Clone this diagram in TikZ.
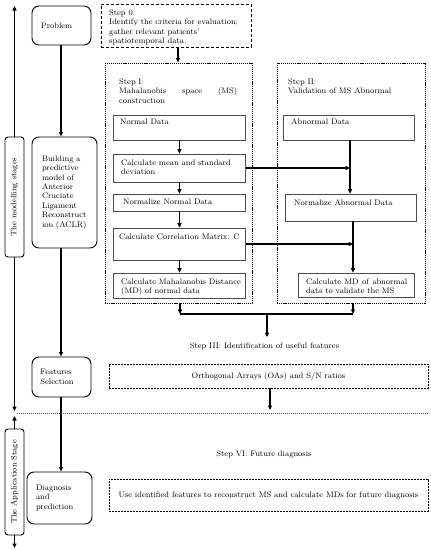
\documentclass[tikz,border=0pt]{standalone}
\usetikzlibrary{arrows.meta,calc}
\begin{document}
\begin{tikzpicture}[x=1pt,y=-1pt,
  every node/.style={font=\fontsize{8}{9.4}\selectfont, inner sep=0pt},
  rbox/.style={draw, line width=0.9pt, rounded corners=7pt, align=left},
  pbox/.style={draw=black!70, line width=0.6pt},
  dbox/.style={draw, line width=0.9pt, dash pattern=on 3pt off 2pt},
  dotbox/.style={draw, line width=0.9pt, dash pattern=on 1.2pt off 0.9pt},
  fbox/.style={draw, line width=0.8pt, dash pattern=on 2pt off 1pt},
  conn/.style={line width=1.1pt, -{Triangle[length=4.5pt,width=4pt]}},
  plainline/.style={line width=1.1pt},
  sepline/.style={draw=black!70, line width=0.6pt, dash pattern=on 1pt off 1pt},
  tl/.style={anchor=north west, align=left},
]
\useasboundingbox (0,0) rectangle (431,550);

% left stage boxes
\node[rbox, rounded corners=3pt, rotate=90, minimum width=120pt, minimum height=19pt, align=center] (modelling) at (14.5,197) {The modelling stages};
\node[rbox, rounded corners=3pt, rotate=90, minimum width=106pt, minimum height=19pt, align=center] (application) at (14.5,482) {The Application Stage};
\coordinate (mtop) at (14.5,6);
\coordinate (mdown) at (14.5,411);
\coordinate (aup) at (14.5,416);
\coordinate (adown) at (14.5,548);
\draw[conn] (modelling.east) -- (mtop);
\draw[conn] (modelling.west) -- (mdown);
\draw[conn] (application.east) -- (aup);
\draw[conn] (application.west) -- (adown);

% second column
\node[rbox, minimum width=59pt, minimum height=39pt, inner xsep=9pt, text width=41pt] (problem) at (61.5,25.5) {Problem};
\node[rbox, minimum width=65pt, minimum height=111pt, inner xsep=10pt, text width=45pt] (building) at (64.5,192.5) {\mbox{Building a}\\\mbox{predictive}\\\mbox{model of}\\\mbox{Anterior}\\\mbox{Cruciate}\\\mbox{Ligament}\\\mbox{Reconstruct}\\\mbox{ion (ACLR)}};
\node[rbox, minimum width=59pt, minimum height=40pt, inner xsep=8.5pt, text width=42pt] (features) at (61.5,377) {Features\\Selection};
\node[rbox, minimum width=65pt, minimum height=52pt, inner xsep=9pt, text width=47pt] (diagnosis) at (59.5,498) {Diagnosis\\and\\prediction};
\coordinate (c0) at (61,0);
\draw[conn] (problem.south -| c0) -- (building.north -| c0);
\draw[conn] (building.south -| c0) -- (features.north -| c0);
\draw[conn] (features.south -| c0) -- (diagnosis.north -| c0);

% step 0
\node[dbox, minimum width=150pt, minimum height=43pt] (step0) at (176,25.5) {};
\node[tl] (step0txt) at (109,9.5) {Step 0:\\Identify the criteria for evaluation;\\gather relevant patients'\\spatiotemporal data.};

% step I and II frames
\node[dotbox, minimum width=147pt, minimum height=240pt] (stepI) at (178.5,183) {};
\node[dotbox, minimum width=148pt, minimum height=240pt] (stepII) at (351,183) {};
\coordinate (c1) at (178,0);
\draw[conn] (step0.south -| c1) -- (stepI.north -| c1);

\node[tl, text width=118pt] (stepItxt) at (119,78.5) {Step I:\\Mahalanobis\hfill space\hfill (MS)\\construction};
\node[tl] (stepIItxt) at (288,78.5) {Step II:\\Validation of MS Abnormal};

% step I inner boxes
\node[pbox, minimum width=132pt, minimum height=25pt] (nd) at (179.5,127.5) {};
\node[pbox, minimum width=132pt, minimum height=28pt] (mean) at (179.5,168) {};
\node[pbox, minimum width=132pt, minimum height=17pt] (nn) at (179.5,202.5) {};
\node[pbox, minimum width=132pt, minimum height=32pt] (corr) at (179.5,244) {};
\node[pbox, minimum width=132pt, minimum height=25pt] (md) at (179.5,285.5) {};
\node[tl] (tnd) at (120,119) {Normal Data};
\node[tl] (tmean) at (121,159.5) {Calculate mean and standard\\deviation};
\node[tl] (tnn) at (123,198.5) {Normalize Normal Data};
\node[tl] (tcorr) at (119,233.5) {Calculate Correlation Matrix: C};
\node[tl] (tmd) at (121,278.5) {Calculate Mahalanobis Distance\\(MD) of normal data};
\draw[conn] (nd.south) -- (mean.north);
\draw[conn] (mean.south) -- (nn.north);
\draw[conn] (nn.south) -- (corr.north);
\draw[conn] (corr.south) -- (md.north);

% step II inner boxes
\node[pbox, minimum width=131pt, minimum height=25pt] (ad) at (348.5,127.5) {};
\node[pbox, minimum width=131pt, minimum height=27pt] (na) at (350.5,207.5) {};
\node[pbox, minimum width=116pt, minimum height=24pt] (mda) at (356,285) {};
\node[tl] (tad) at (291,119) {Abnormal Data};
\node[tl] (tna) at (294,199.5) {Normalize Abnormal Data};
\node[tl, text width=101pt] (tmda) at (306,278.5) {Calculate\hfill MD\hfill of\hfill abnormal\\data to validate the MS};
\coordinate (c2) at (350,0);
\coordinate (c3) at (353,0);
\draw[conn] (ad.south -| c2) -- (na.north -| c2);
\draw[conn] (mean.east) -- (mean.east -| c2);
\draw[conn] (na.south -| c3) -- (mda.north -| c3);
\draw[conn] (corr.east) -- (corr.east -| c3);

% merge
\coordinate (m1) at (180,314);
\coordinate (m2) at (353,314);
\coordinate (m3) at (267,314);
\coordinate (m4) at (267,337);
\draw[conn] (stepI.south -| m1) -- (m1);
\draw[conn] (stepII.south -| m2) -- (m2);
\draw[plainline] (m1) -- (m2);
\draw[conn] (m3) -- (m4);

\node (stepIII) at (264.5,346) {Step III: Identification of useful features};
\node[fbox, minimum width=319pt, minimum height=24pt] (orth) at (268.5,376) {Orthogonal Arrays (OAs) and S/N ratios};
\coordinate (c4) at (270,0);
\coordinate (o2) at (270,410);
\draw[conn] (orth.south -| c4) -- (o2);

% separator
\coordinate (d1) at (17,413);
\coordinate (d2) at (428,413);
\draw[sepline] (d1) -- (d2);

\node (stepVI) at (264,454) {Step VI: Future diagnosis};
\node[fbox, minimum width=319pt, minimum height=32pt] (use) at (268.5,495) {Use identified features to reconstruct MS and calculate MDs for future diagnosis};
\end{tikzpicture}
\end{document}
